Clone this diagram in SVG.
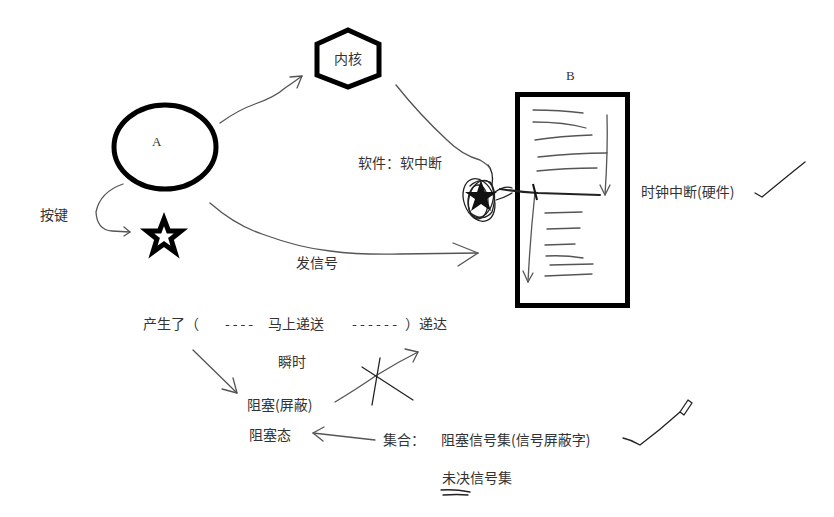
<svg xmlns="http://www.w3.org/2000/svg" width="834" height="517" viewBox="0 0 834 517">
  <style>
    .t { font-family: "Noto Sans CJK SC", "Noto Sans", sans-serif; font-size: 14px; fill: #333; }
    .s { font-family: "Liberation Serif", serif; font-size: 13px; fill: #333; }
    .thick { fill: none; stroke: #000; stroke-width: 5; stroke-linejoin: miter; }
    .pen { fill: none; stroke: #555; stroke-width: 1.3; stroke-linecap: round; stroke-linejoin: round; }
    .ink { fill: none; stroke: #222; stroke-width: 1.3; stroke-linecap: round; stroke-linejoin: round; }
  </style>
  <rect width="834" height="517" fill="#fff"/>

  <!-- kernel -->
  <g id="kernel">
    <polygon class="thick" points="348,30 379,44 379,75 348,87 317,75 317,44"/>
    <text class="t" x="348" y="64" text-anchor="middle" font-size="15">内核</text>
  </g>

  <!-- process A -->
  <g id="procA">
    <ellipse class="thick" cx="165" cy="147" rx="51" ry="42" stroke-width="4"/>
    <text class="s" x="152" y="146">A</text>
  </g>

  <!-- signal star -->
  <g id="signal">
    <polygon class="thick" stroke-width="4" points="164,219 168.5,231 181,231 171,239 175,252 164,244 153,252 157,239 147,231 159.5,231"/>
  </g>

  <!-- process B -->
  <g id="procB">
    <rect class="thick" x="517.5" y="94.5" width="110" height="211"/>
    <text class="s" x="566" y="80">B</text>
    <g class="pen">
      <path d="M533,110 Q560,110 583,113"/>
      <path d="M533,122 Q565,122 586,128"/>
      <path d="M535,140 Q560,136 592,135"/>
      <path d="M538,157 Q575,153 607,153"/>
      <path d="M537,171 Q565,168 597,168"/>
      <path d="M545,213 L582,212"/>
      <path d="M547,229 L580,228"/>
      <path d="M545,245 L575,244"/>
      <path d="M546,256 Q565,255 583,258"/>
      <path d="M550,265 L593,264"/>
      <path d="M545,276 L592,274"/>
      <!-- execution flow -->
      <path d="M607,115 Q608,150 605,195"/>
      <path d="M600,185 L605,195 L610,185"/>
      <path d="M535,192 Q530,240 528,282"/>
      <path d="M523,271 L528,282 L533,273"/>
    </g>
    <path d="M500,189 Q520,192 538,193 L600,195" fill="none" stroke="#222" stroke-width="2" stroke-linecap="round"/>
    <path d="M533,184 L537,200" fill="none" stroke="#111" stroke-width="2"/>
  </g>

  <!-- soft interrupt mark -->
  <g id="softirq">
    <g class="ink" stroke-width="1">
      <ellipse cx="479" cy="200" rx="15" ry="22" transform="rotate(-20 479 200)"/>
      <ellipse cx="481" cy="199" rx="12" ry="19" transform="rotate(15 481 199)"/>
      <ellipse cx="478" cy="202" rx="10" ry="17"/>
      <path d="M470,186 Q478,178 490,182 Q498,192 492,212 Q484,222 472,214"/>
      <path d="M488,165 Q494,172 492,185"/>
      <path d="M495,192 Q505,185 512,188"/>
      <path d="M496,200 Q506,197 512,193"/>
    </g>
    <polygon fill="#111" points="481,180 485,192 497,192 487,199 491,211 481,204 471,211 475,199 465,192 477,192"/>
  </g>

  <!-- connectors -->
  <g id="connectors" class="pen">
    <path d="M220,123 Q238,110 255,104 Q275,97 285,88 Q294,82 302,76"/>
    <path d="M290,77 L302,76 L297,88"/>
    <path d="M396,85 Q420,115 447,140 Q462,155 480,160 Q488,165 490,168"/>
    <path d="M210,203 Q235,225 262,234 Q300,248 330,251 Q360,255 400,254 L478,253"/>
    <path d="M453,243 L478,253 L458,266"/>
    <path d="M123,184 Q100,192 96,212 Q97,230 112,231 L130,232"/>
    <path d="M124,227 L130,232 L124,236"/>
    <path d="M193,350 L237,393"/>
    <path d="M222,389 L237,393 L233,378"/>
    <path d="M375,440 Q340,436 313,433"/>
    <path d="M324,427 L313,433 L323,441"/>
    <path d="M335,402 Q355,390 377,375 Q398,362 418,352"/>
    <path d="M405,349 L418,352 L413,362"/>
  </g>
  <g class="ink" stroke-width="1">
    <path d="M380,358 L372,405"/>
    <path d="M362,367 Q385,382 413,400"/>
    <path d="M755,193 L762,197 Q785,178 805,162"/>
    <path d="M623,438 Q632,440 640,445 Q660,430 680,412"/>
    <path d="M680,412 L688,400 L692,403 L684,415 Z"/>
    <path d="M441,490 Q455,489 470,492 M443,495 Q458,494 468,495"/>
  </g>

  <!-- labels -->
  <text class="t" x="358" y="168">软件：软中断</text>
  <text class="t" x="641" y="197">时钟中断(硬件)</text>
  <text class="t" x="40" y="220">按键</text>
  <text class="t" x="296" y="268">发信号</text>
  <text class="t" x="143" y="329">产生了（</text>
  <text class="t" x="225" y="329" textLength="28" lengthAdjust="spacing">----</text>
  <text class="t" x="268" y="329">马上递送</text>
  <text class="t" x="352" y="329" textLength="45" lengthAdjust="spacing">------</text>
  <text class="t" x="405" y="329">）递达</text>
  <text class="t" x="278" y="367">瞬时</text>
  <text class="t" x="247" y="410">阻塞(屏蔽)</text>
  <text class="t" x="249" y="440">阻塞态</text>
  <text class="t" x="383" y="445">集合：</text>
  <text class="t" x="441" y="445">阻塞信号集(信号屏蔽字)</text>
  <text class="t" x="442" y="483">未决信号集</text>
</svg>
